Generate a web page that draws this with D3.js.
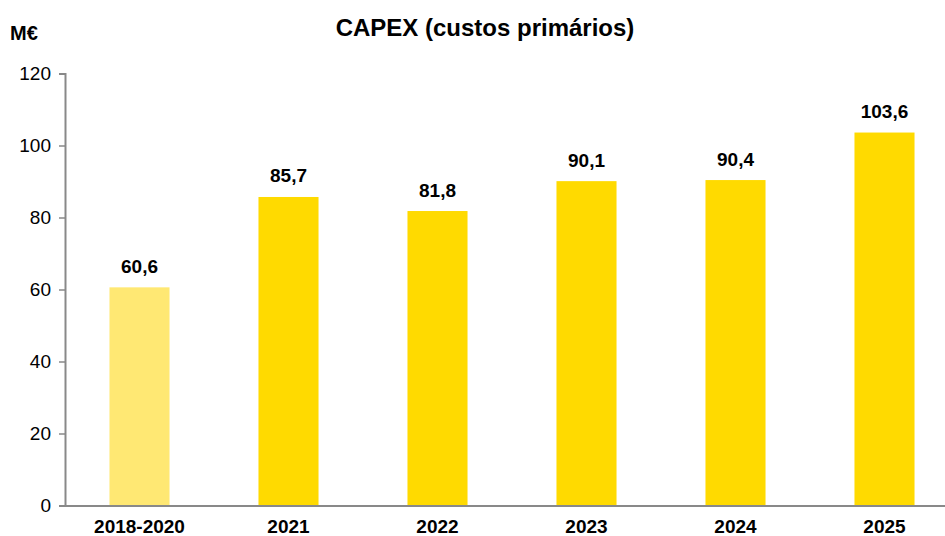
<!DOCTYPE html>
<html>
<head>
<meta charset="utf-8">
<script src="https://cdn.jsdelivr.net/npm/d3@7"></script>
<style>
  html, body { margin: 0; padding: 0; background: #fff; }
  svg { display: block; font-family: "Liberation Sans", Arial, sans-serif; }
</style>
</head>
<body>
<svg id="chart" width="945" height="536"></svg>
<script>
// CAPEX by period, in M€
const categories = ["2018-2020", "2021", "2022", "2023", "2024", "2025"];
const values = [60.6, 85.7, 81.8, 90.1, 90.4, 103.6];
const yTicks = [0, 20, 40, 60, 80, 100, 120];
const titleText = "CAPEX (custos primários)";
const unitText = "M€";

const svg = d3.select("#chart");
const plotLeft = 65, plotBottom = 505.5, plotTop = 73.5;
const step = 149;

const x = d3.scaleBand()
  .domain(categories)
  .range([plotLeft, plotLeft + step * categories.length])
  .paddingInner(0.597)
  .paddingOuter(0.2985);

const y = d3.scaleLinear().domain([0, 120]).range([plotBottom, plotTop]);

const barColor = (d, i) => i === 0 ? "#FFE873" : "#FFDA00";
const fmt = v => v.toFixed(1).replace(".", ",");

// bars
svg.append("g").selectAll("rect")
  .data(values)
  .join("rect")
  .attr("x", (d, i) => x(categories[i]))
  .attr("y", d => y(d))
  .attr("width", x.bandwidth())
  .attr("height", d => y(0) - y(d))
  .attr("fill", barColor);

// value labels
svg.append("g").selectAll("text")
  .data(values)
  .join("text")
  .attr("x", (d, i) => x(categories[i]) + x.bandwidth() / 2)
  .attr("y", d => y(d) - 14.5)
  .attr("text-anchor", "middle")
  .attr("font-size", 19)
  .attr("font-weight", "bold")
  .attr("fill", "#000")
  .text(d => fmt(d));

// y axis
const yAxis = svg.append("g")
  .attr("transform", `translate(${plotLeft},0)`)
  .call(d3.axisLeft(y).tickValues(yTicks).tickSize(6).tickPadding(8).tickFormat(d3.format("d")));
yAxis.select(".domain").attr("stroke", "#898989").attr("stroke-width", 2);
yAxis.selectAll(".tick line").attr("stroke", "#898989").attr("stroke-width", 1.5);
yAxis.selectAll(".tick text")
  .attr("font-size", 19)
  .attr("fill", "#000")
  .attr("font-family", "Liberation Sans, Arial, sans-serif");

// x axis
const xAxis = svg.append("g")
  .attr("transform", `translate(0,${plotBottom})`)
  .call(d3.axisBottom(x).tickSize(0).tickPadding(14));
xAxis.select(".domain").attr("stroke", "#898989").attr("stroke-width", 2);
xAxis.selectAll(".tick text")
  .attr("font-size", 19)
  .attr("font-weight", "bold")
  .attr("fill", "#000")
  .attr("font-family", "Liberation Sans, Arial, sans-serif");

// title and unit
svg.append("text")
  .attr("x", 485).attr("y", 36)
  .attr("text-anchor", "middle")
  .attr("font-size", 24)
  .attr("font-weight", "bold")
  .attr("fill", "#000")
  .text(titleText);

svg.append("text")
  .attr("x", 10).attr("y", 40)
  .attr("font-size", 20)
  .attr("font-weight", "bold")
  .attr("fill", "#000")
  .text(unitText);
</script>
</body>
</html>
